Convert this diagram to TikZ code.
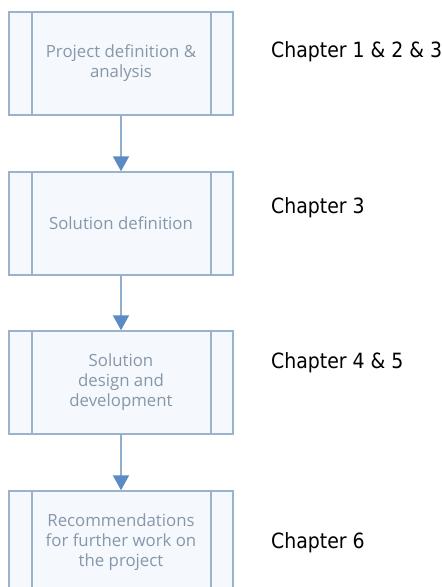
\documentclass[tikz,border=0pt]{standalone}
\usepackage{fontspec}
\usepackage{xcolor}
\usepackage{tikz}
\usetikzlibrary{arrows.meta,positioning}
\newfontfamily\boxfont{Open Sans}
\newfontfamily\chapfont{DejaVu Sans Condensed}
\definecolor{FlowEdge}{HTML}{9AB3CC}
\definecolor{FlowFill}{HTML}{F5F8FC}
\definecolor{FlowText}{HTML}{8797AA}
\definecolor{FlowArrow}{HTML}{8EAFD0}
\definecolor{FlowHead}{HTML}{5B8BC2}
\tikzset{
  procbox/.style={draw=FlowEdge,fill=FlowFill,line width=1.5pt,
    minimum width=224pt,minimum height=103pt,inner sep=0pt,align=center,
    text=FlowText,font=\boxfont\fontsize{16.8}{20}\selectfont,
    path picture={\draw[FlowEdge,line width=1.5pt]
      ([xshift=23pt]path picture bounding box.north west) -- ([xshift=23pt]path picture bounding box.south west)
      ([xshift=-22pt]path picture bounding box.north east) -- ([xshift=-22pt]path picture bounding box.south east);}},
  chaplabel/.style={anchor=base west,inner sep=0pt,font=\chapfont\fontsize{21}{24}\selectfont}
}
\newcommand{\stagebox}[3]{%
  \node[procbox,#3] (#1) {#2};}

\begin{document}
\begin{tikzpicture}[x=1pt,y=-1pt]
  \clip (0,0) rectangle (442,587);
  \fill[white] (0,0) rectangle (442,587);
  \stagebox{define}{Project definition \&\\analysis}{at={(121,63.5)}}
  \stagebox{solution}{Solution definition}{at={(121,223.5)}}
  \stagebox{design}{Solution\\design and\\development}{at={(121,382.5)}}
  \stagebox{further}{Recommendations\\for further work on\\the project}{at={(121,542.5)}}
  \node[chaplabel] (ch1) at (271,57) {Chapter 1 \& 2 \& 3};
  \node[chaplabel] (ch3) at (271,213) {Chapter 3};
  \node[chaplabel] (ch45) at (271,368) {Chapter 4 \& 5};
  \node[chaplabel] (ch6) at (271,548) {Chapter 6};
  \draw[FlowArrow,line width=2pt,-{Triangle[width=16pt,length=15pt,fill=FlowHead,color=FlowHead]}] (define) -- (solution);
  \draw[FlowArrow,line width=2pt,-{Triangle[width=16pt,length=15pt,fill=FlowHead,color=FlowHead]}] (solution) -- (design);
  \draw[FlowArrow,line width=2pt,-{Triangle[width=16pt,length=15pt,fill=FlowHead,color=FlowHead]}] (design) -- (further);
\end{tikzpicture}
\end{document}
